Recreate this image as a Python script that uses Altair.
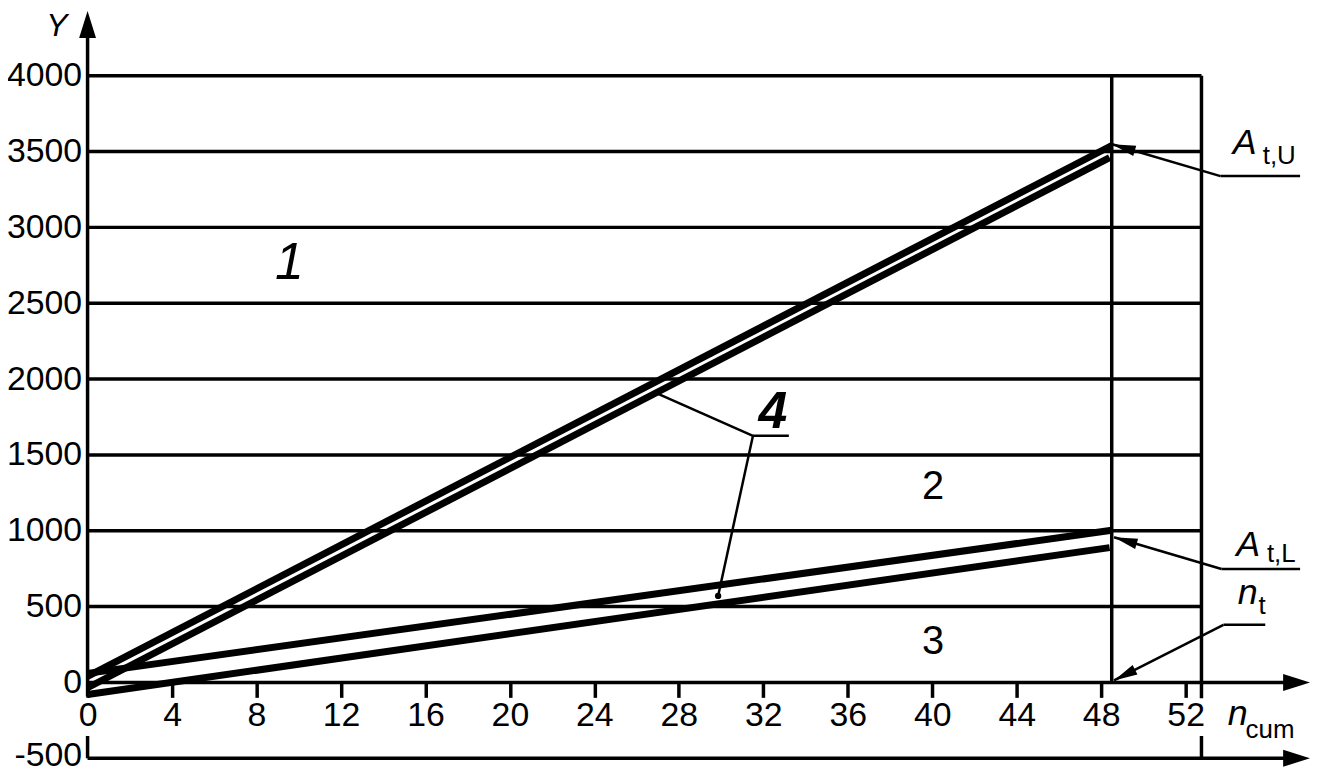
import math
import altair as alt
import pandas as pd

# ---------------- data ----------------
Y_TICKS = [-500, 0, 500, 1000, 1500, 2000, 2500, 3000, 3500, 4000]
X_TICKS = [0, 4, 8, 12, 16, 20, 24, 28, 32, 36, 40, 44, 48, 52]
GRID_Y = [500, 1000, 1500, 2000, 2500, 3000, 3500, 4000]
FRAME_RIGHT = 52.75
N_T = 48.5

# four limit lines (start / end points)
LINE_NAME = ["U_upper", "U_lower", "L_upper", "L_lower"]
LINE_X0 = [0, 0, 0, 0]
LINE_Y0 = [40, -35, 60, -80]
LINE_X1 = [48.5, 48.4, 48.5, 48.4]
LINE_Y1 = [3540, 3460, 1003, 889]

# frame / axis segments (x, y, x2, y2)
FRAME_X = [0, 0, N_T, FRAME_RIGHT, FRAME_RIGHT, 0, 0]
FRAME_Y = [-92, -353, 0, -105, -353, 0, -500]
FRAME_X2 = [0, 0, N_T, FRAME_RIGHT, FRAME_RIGHT, 56.7, 56.7]
FRAME_Y2 = [4260, -500, 4000, 4000, -500, 0, -500]

# leader lines (x, y, x2, y2)
LEAD_X = [53.65, 53.65, 53.70, 53.70, 53.79, 53.79, 31.51, 31.51, 31.51]
LEAD_Y = [3338, 3338, 748, 748, 380, 380, 1626, 1626, 1626]
LEAD_X2 = [57.42, 48.52, 57.42, 48.61, 55.77, 48.61, 33.21, 26.94, 29.86]
LEAD_Y2 = [3338, 3548, 748, 957, 380, 13, 1626, 1908, 570]

# leader arrow heads: tip and origin of the leader
ARROW_TIP_X = [48.52, 48.61, 48.61]
ARROW_TIP_Y = [3548, 957, 13]
ARROW_FROM_X = [53.65, 53.70, 53.79]
ARROW_FROM_Y = [3338, 748, 380]

# axis arrow heads
AX_TIP_X = [57.89, 57.89, 0]
AX_TIP_Y = [0, -500, 4426]
AX_DIR = ["right", "right", "up"]

DOT_X = [29.86]
DOT_Y = [570]

# texts
BIG_ITALIC_TXT = ["1"]
BIG_ITALIC_X = [9.56]
BIG_ITALIC_Y = [2767]

REGION_TXT = ["2", "3"]
REGION_X = [40.04, 40.04]
REGION_Y = [1285, 269]

BOLD_TXT = ["4"]
BOLD_X = [32.45]
BOLD_Y = [1784]

MAIN_TXT = ["A", "A", "n", "n"]
MAIN_X = [54.23, 54.4, 54.47, 54.0]
MAIN_Y = [3482, 833, 518, -282]

SUB_TXT = ["t,U", "t,L", "t", "cum"]
SUB_X = [55.65, 55.85, 55.45, 54.84]
SUB_Y = [3416, 793, 452, -367]

YLAB_TXT = ["Y"]
YLAB_X = [-1.46]
YLAB_Y = [4325]

# ---------------- layout ----------------
W, H = 1230, 766
PX_X = 21.23
PX_Y = 0.1525
X_MAX = W / PX_X
Y_MAX = 676 / PX_Y
Y_MIN = Y_MAX - H / PX_Y
FONT = "Liberation Sans"

xs = alt.Scale(domain=[0, X_MAX], nice=False, zero=False)
ys = alt.Scale(domain=[Y_MIN, Y_MAX], nice=False, zero=False)
X_AXIS_OFFSET = -(H - 676)


def angle(x0, y0, x1, y1):
    dx = (x1 - x0) * PX_X
    dy = -(y1 - y0) * PX_Y
    return math.degrees(math.atan2(dy, dx)) % 360


def X(field):
    return alt.X(field, scale=xs, title=None)


def Y(field):
    return alt.Y(field, scale=ys, title=None)


# ---------------- layers ----------------
axis_anchor = pd.DataFrame({"x": [0], "y": [0]})
axes_layer = alt.Chart(axis_anchor).mark_point(opacity=0).encode(
    x=alt.X("x:Q", scale=xs, title=None, axis=alt.Axis(
        values=X_TICKS, orient="bottom", offset=X_AXIS_OFFSET, domain=False, grid=False,
        ticks=True, tickSize=15, tickWidth=3.5, tickColor="black",
        labelFont=FONT, labelFontSize=34, labelColor="black", labelPadding=1,
        labelExpr="'' + datum.value", labelFlush=False, labelOverlap=False)),
    y=alt.Y("y:Q", scale=ys, title=None, axis=alt.Axis(
        values=Y_TICKS, orient="left", domain=False, grid=False, ticks=False,
        labelFont=FONT, labelFontSize=34, labelColor="black", labelPadding=6,
        labelOffset=alt.ExprRef("datum.value < 0 ? -3 : 0"),
        labelExpr="'' + datum.value", labelFlush=False, labelOverlap=False)),
)

grid_df = pd.DataFrame({"y": GRID_Y, "x": [0] * len(GRID_Y), "x2": [FRAME_RIGHT] * len(GRID_Y)})
grid = alt.Chart(grid_df).mark_rule(color="black", strokeWidth=3.5).encode(
    x=X("x:Q"), x2="x2:Q", y=Y("y:Q"),
)

frame_df = pd.DataFrame({"x": FRAME_X, "y": FRAME_Y, "x2": FRAME_X2, "y2": FRAME_Y2})
frame = alt.Chart(frame_df).mark_rule(color="black", strokeWidth=3.5, strokeCap="butt").encode(
    x=X("x:Q"), x2="x2:Q", y=Y("y:Q"), y2="y2:Q",
)

rows = []
for n, x0, y0, x1, y1 in zip(LINE_NAME, LINE_X0, LINE_Y0, LINE_X1, LINE_Y1):
    rows.append({"series": n, "x": x0, "y": y0, "o": 0})
    rows.append({"series": n, "x": x1, "y": y1, "o": 1})
lines_df = pd.DataFrame(rows)
lines = alt.Chart(lines_df).mark_line(color="black", strokeWidth=7, strokeCap="butt").encode(
    x=X("x:Q"), y=Y("y:Q"), detail="series:N", order="o:Q",
)

lead_df = pd.DataFrame({"x": LEAD_X, "y": LEAD_Y, "x2": LEAD_X2, "y2": LEAD_Y2})
leaders = alt.Chart(lead_df).mark_rule(color="black", strokeWidth=2.5).encode(
    x=X("x:Q"), x2="x2:Q", y=Y("y:Q"), y2="y2:Q",
)

arr_df = pd.DataFrame({
    "x": ARROW_TIP_X, "y": ARROW_TIP_Y,
    "a": [angle(fx, fy, tx, ty) for fx, fy, tx, ty in zip(ARROW_FROM_X, ARROW_FROM_Y, ARROW_TIP_X, ARROW_TIP_Y)],
})
small_arrows = alt.Chart(arr_df).mark_point(
    shape="M0,0 L-2,-0.45 L-2,0.45 Z", filled=True, color="black", opacity=1, size=560, strokeWidth=0,
).encode(
    x=X("x:Q"), y=Y("y:Q"), angle=alt.Angle("a:Q", scale=None),
)

ax_df = pd.DataFrame({"x": AX_TIP_X, "y": AX_TIP_Y, "a": [0 if d == "right" else 270 for d in AX_DIR]})
axis_arrows = alt.Chart(ax_df).mark_point(
    shape="M0,0 L-2,-0.63 L-2,0.63 Z", filled=True, color="black", opacity=1, size=729, strokeWidth=0,
).encode(
    x=X("x:Q"), y=Y("y:Q"), angle=alt.Angle("a:Q", scale=None),
)

dot = alt.Chart(pd.DataFrame({"x": DOT_X, "y": DOT_Y})).mark_circle(color="black", size=40, opacity=1).encode(
    x=X("x:Q"), y=Y("y:Q"),
)


def text_layer(txt, x, y, **kw):
    df = pd.DataFrame({"t": txt, "x": x, "y": y})
    return alt.Chart(df).mark_text(color="black", font=FONT, **kw).encode(
        x=X("x:Q"), y=Y("y:Q"), text="t:N",
    )


t_one = text_layer(BIG_ITALIC_TXT, BIG_ITALIC_X, BIG_ITALIC_Y, fontSize=52, fontStyle="italic",
                   align="center", baseline="middle")
t_region = text_layer(REGION_TXT, REGION_X, REGION_Y, fontSize=40, align="center", baseline="middle")
t_four = text_layer(BOLD_TXT, BOLD_X, BOLD_Y, fontSize=52, fontStyle="italic", fontWeight="bold",
                    align="center", baseline="middle")
t_main = text_layer(MAIN_TXT, MAIN_X, MAIN_Y, fontSize=36, fontStyle="italic",
                    align="left", baseline="alphabetic")
t_sub = text_layer(SUB_TXT, SUB_X, SUB_Y, fontSize=26, align="left", baseline="alphabetic")
t_y = text_layer(YLAB_TXT, YLAB_X, YLAB_Y, fontSize=32, fontStyle="italic", align="center", baseline="middle")

chart = alt.layer(
    axes_layer, grid, frame, lines, leaders, small_arrows, axis_arrows, dot,
    t_one, t_region, t_four, t_main, t_sub, t_y,
).properties(
    width=W, height=H,
    padding={"left": 80, "top": 0, "right": 0, "bottom": 0},
    autosize=alt.AutoSizeParams(type="none"),
    background="white",
).configure_view(stroke=None)

chart.save("out.html", embed_options={"renderer": "svg", "actions": False})
